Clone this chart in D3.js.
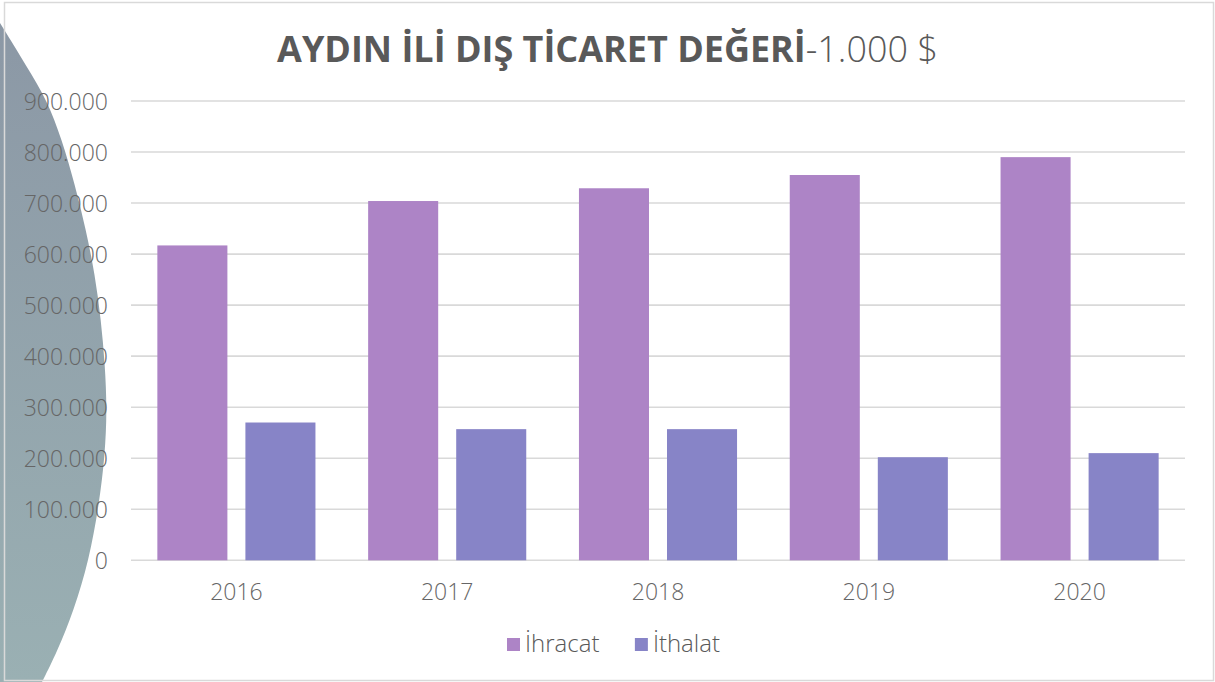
<!DOCTYPE html>
<html>
<head>
<meta charset="utf-8">
<script src="https://cdn.jsdelivr.net/npm/d3@7"></script>
<style>
  body { margin: 0; background: #fff; }
  svg { display: block; }
</style>
</head>
<body>
<div id="viz"></div>
<script>
// Data
var years = ['2016', '2017', '2018', '2019', '2020'];
var seriesNames = ['İhracat', 'İthalat'];
var ihracat = [617000, 704000, 729000, 755000, 790000];
var ithalat = [270000, 257000, 257000, 202000, 210000];
var yTicks = [0, 100000, 200000, 300000, 400000, 500000, 600000, 700000, 800000, 900000];
var titleBold = 'AYDIN İLİ DIŞ TİCARET DEĞERİ';
var titleLight = '-1.000 $';

var colors = {'İhracat': '#AD84C6', 'İthalat': '#8784C7'};

var width = 1215,
    height = 682,
    fontFamily = '"Century Gothic", "Open Sans", sans-serif',
    textColor = '#595959';

var svg = d3.select('#viz')
  .append('svg')
  .attr('width', width)
  .attr('height', height);

/*
 * Background shape on the left (slide decoration) with a soft gradient
 */
var defs = svg.append('defs');
var grad = defs.append('linearGradient')
  .attr('id', 'fondo')
  .attr('x1', 0).attr('y1', 0)
  .attr('x2', 0).attr('y2', 1);
grad.append('stop').attr('offset', '0%').attr('stop-color', '#8B97A5');
grad.append('stop').attr('offset', '100%').attr('stop-color', '#9AB0B3');

// edge of the decoration
var edge = [[0, 23], [27, 67], [47, 100], [62, 140], [75, 185], [86, 230], [95, 275],
            [101, 320], [105, 365], [107, 410], [105, 455], [99, 505], [89, 560],
            [74, 610], [57, 652], [42, 682]];
var edgePath = d3.line().curve(d3.curveBasis)(edge);
svg.append('path')
  .attr('d', 'M0,0L0,23' + edgePath.replace('M', 'L') + 'L0,682Z')
  .style('fill', 'url(#fondo)');

// chart border
svg.append('rect')
  .attr('x', 4.5)
  .attr('y', 2.5)
  .attr('width', 1209)
  .attr('height', 678)
  .style('fill', 'none')
  .attr('stroke', '#D9D9D9')
  .attr('stroke-width', 1.5);

/*
 * Scales
 */
var y = d3.scaleLinear()
  .domain([0, 900000])
  .range([560.3, 101]);

var x0 = d3.scaleBand()
  .domain(years)
  .range([131, 1185])
  .paddingInner(0.25)
  .paddingOuter(0.125);

var x1 = d3.scaleBand()
  .domain(seriesNames)
  .range([0, x0.bandwidth()])
  .paddingInner(0.2045);

var trLocale = d3.formatLocale({decimal: ',', thousands: '.', grouping: [3], currency: ['', '$']});
var fmt = trLocale.format(',d');

/*
 * Gridlines
 */
var gGrid = svg.append('g');
gGrid.selectAll('line')
  .data(yTicks)
  .enter()
  .append('line')
  .attr('x1', 131)
  .attr('x2', 1185)
  .attr('y1', function(d){ return y(d); })
  .attr('y2', function(d){ return y(d); })
  .attr('stroke', '#D9D9D9')
  .attr('stroke-width', 1.6);

/*
 * Y axis labels
 */
var yAxis = d3.axisLeft(y)
  .tickValues(yTicks)
  .tickFormat(fmt)
  .tickSize(0)
  .tickPadding(0);

var gY = svg.append('g')
  .attr('transform', 'translate(108,0)')
  .call(yAxis);
gY.select('.domain').remove();
gY.selectAll('text')
  .style('font-family', fontFamily)
  .style('font-size', '23px')
  .style('font-weight', 300)
  .attr('fill', '#666666')
  .attr('dy', '0.36em');

/*
 * Bars
 */
var rows = years.map(function(yr, i){
  return {year: yr, values: [{name: 'İhracat', v: ihracat[i]}, {name: 'İthalat', v: ithalat[i]}]};
});

var gBars = svg.append('g');
var groups = gBars.selectAll('g')
  .data(rows)
  .enter()
  .append('g')
  .attr('transform', function(d){ return 'translate(' + x0(d.year) + ',0)'; });

groups.selectAll('rect')
  .data(function(d){ return d.values; })
  .enter()
  .append('rect')
  .attr('x', function(d){ return x1(d.name); })
  .attr('width', x1.bandwidth())
  .attr('y', function(d){ return y(d.v); })
  .attr('height', function(d){ return y(0) - y(d.v); })
  .style('fill', function(d){ return colors[d.name]; });

/*
 * X axis labels
 */
var xAxis = d3.axisBottom(x0).tickSize(0).tickPadding(0);
var gX = svg.append('g')
  .attr('transform', 'translate(0,' + 600 + ')')
  .call(xAxis);
gX.select('.domain').remove();
gX.selectAll('text')
  .style('font-family', fontFamily)
  .style('font-size', '23px')
  .style('font-weight', 300)
  .attr('fill', '#666666')
  .attr('dy', 0);

/*
 * Title (bold part + light part), fitted to the original width
 */
var title = svg.append('text')
  .attr('x', width / 2)
  .attr('y', 62)
  .attr('text-anchor', 'middle')
  .style('font-family', fontFamily)
  .style('font-size', '32px')
  .attr('fill', textColor);
title.append('tspan').style('font-weight', 700).text(titleBold);
title.append('tspan').style('font-weight', 300).text(titleLight);
var tw = title.node().getComputedTextLength();
title.style('font-size', (32 * 661 / tw) + 'px');

/*
 * Legend (items spread over the same span as in the original)
 */
var gLegend = svg.append('g');
var items = seriesNames.map(function(name){
  var g = gLegend.append('g');
  g.append('rect')
    .attr('y', 638)
    .attr('width', 13)
    .attr('height', 13)
    .style('fill', colors[name]);
  var t = g.append('text')
    .attr('x', 18)
    .attr('y', 652)
    .style('font-family', fontFamily)
    .style('font-size', '24px')
    .style('font-weight', 300)
    .attr('fill', textColor)
    .text(name);
  return {g: g, w: 18 + t.node().getComputedTextLength()};
});
var legStart = 507, legEnd = 720;
var gap = (legEnd - legStart) - d3.sum(items, function(d){ return d.w; });
var legX = legStart;
items.forEach(function(it){
  it.g.attr('transform', 'translate(' + legX + ',0)');
  legX = legX + it.w + gap;
});
</script>
</body>
</html>
